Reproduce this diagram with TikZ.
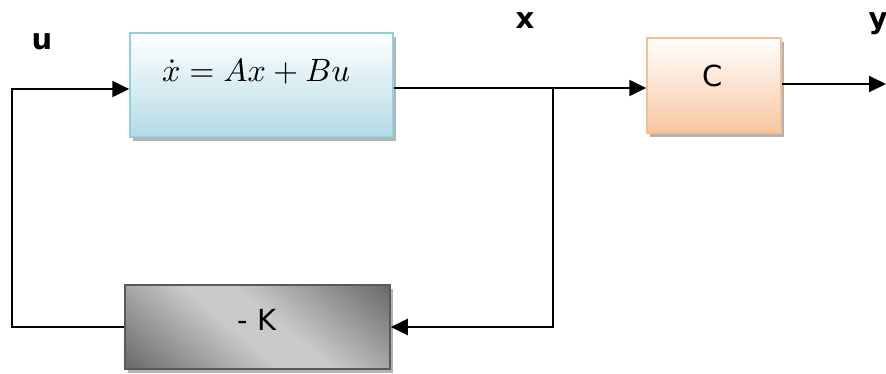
\documentclass[tikz,border=0pt]{standalone}
\usepackage{fontspec}
\usepackage{graphicx}
\newfontfamily\lab{DejaVu Sans}
\usetikzlibrary{arrows.meta,shadows}
\definecolor{bluebot}{HTML}{B3DBE5}
\definecolor{blueedge}{HTML}{93CEDB}
\definecolor{peachbot}{HTML}{F8C6A0}
\definecolor{peachedge}{HTML}{F7BE92}
\definecolor{kdark}{HTML}{666666}
\definecolor{klight}{HTML}{CACACA}
\definecolor{kedge}{HTML}{5A5A5A}
\definecolor{shadowgray}{HTML}{A0A0A0}
\pgfdeclareverticalshading{kshade}{100bp}{color(0bp)=(kdark); color(14bp)=(kdark);
  color(45bp)=(klight); color(55bp)=(klight); color(86bp)=(kdark); color(100bp)=(kdark)}
\begin{document}
\begin{tikzpicture}[x=1pt,y=-1pt,
  blk/.style={rectangle, line width=1.5pt, inner sep=0pt,
    drop shadow={shadow xshift=3pt, shadow yshift=-4pt, fill=shadowgray, opacity=0.8}},
  conn/.style={line width=2pt, -{Triangle[length=17pt,width=16pt]}},
  wire/.style={line width=2pt},
  lbl/.style={inner sep=0pt, font=\lab\bfseries\fontsize{29}{32}\selectfont},
  inlbl/.style={inner sep=0pt, font=\lab\fontsize{29}{30}\selectfont}]
\useasboundingbox (0,0) rectangle (886,373);
% blocks
\node[blk, draw=blueedge, top color=white, bottom color=bluebot,
  minimum width=263pt, minimum height=104pt] (sys) at (261.5,85) {};
\node[blk, draw=peachedge, top color=white, bottom color=peachbot,
  minimum width=134pt, minimum height=95pt] (C) at (714,85.5) {};
\node[blk, draw=kedge, shading=kshade, shading angle=-40,
  minimum width=265pt, minimum height=84pt] (K) at (257.5,327) {};
% texts
\node[inner sep=0pt] (eq) at (256,72) {\resizebox{188pt}{!}{$\dot{x} = Ax + Bu$}};
\node[inlbl] (ct) at (713,76) {C};
\node[inlbl] (kt) at (257,320) {- K};
\node[lbl] (u) at (42,42) {u};
\node[lbl] (x) at (525,21) {x};
\node[lbl] (y) at (878,24) {y};
% levels
\coordinate (lvin) at (0,89);
\coordinate (lvout) at (0,88);
\coordinate (j) at (553,88);
\coordinate (yout) at (886,84);
\coordinate (fl) at (12,327);
% connectors
\draw[wire] (sys.east |- lvout) -- (j);
\draw[conn] (j) -- (C.west |- j);
\draw[conn] (C.east |- yout) -- (yout);
\draw[conn] (j) |- (K.east);
\draw[conn] (K.west) -- (fl) |- (sys.west |- lvin);
\end{tikzpicture}
\end{document}
